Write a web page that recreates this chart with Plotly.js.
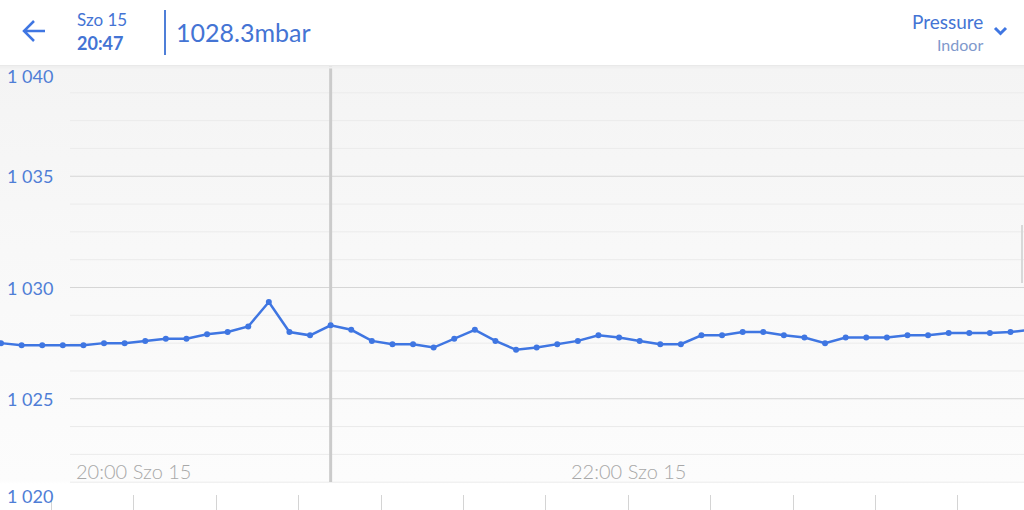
<!DOCTYPE html>
<html>
<head>
<meta charset="utf-8">
<script src="https://cdn.plot.ly/plotly-3.0.1.min.js"></script>
<style>
  html, body { margin: 0; padding: 0; width: 1024px; height: 510px; overflow: hidden; }
  body { background: linear-gradient(to bottom, #ffffff 0px, #ffffff 65px, #f4f4f4 66px, #f8f8f8 250px, #fcfcfc 480px, #ffffff 484px, #ffffff 510px); }
  #chart { width: 1024px; height: 510px; }
</style>
</head>
<body>
<div id="chart"></div>
<script>
// ---- data ----
const day = '2023-07-15';
const times = ['19:27:45','19:32:45','19:37:45','19:42:45','19:47:45','19:52:45','19:57:45',
  '20:02:45','20:07:45','20:12:45','20:17:45','20:22:45','20:27:45','20:32:45','20:37:45','20:42:45',
  '20:47:45','20:52:45','20:57:45','21:02:45','21:07:45','21:12:45','21:17:45','21:22:45','21:27:45',
  '21:32:45','21:37:45','21:42:45','21:47:45','21:52:45','21:57:45','22:02:45','22:07:45','22:12:45',
  '22:17:45','22:22:45','22:27:45','22:32:45','22:37:45','22:42:45','22:47:45','22:52:45','22:57:45',
  '23:02:45','23:07:45','23:12:45','23:17:45','23:22:45','23:27:45','23:32:45','23:37:45'];
const pressure = [1027.5, 1027.4, 1027.4, 1027.4, 1027.4, 1027.5, 1027.5, 1027.6, 1027.7, 1027.7,
  1027.9, 1028.0, 1028.25, 1029.35, 1028.0, 1027.85, 1028.3, 1028.1, 1027.6, 1027.45,
  1027.45, 1027.3, 1027.7, 1028.1, 1027.6, 1027.2, 1027.3, 1027.45, 1027.6, 1027.85,
  1027.75, 1027.6, 1027.45, 1027.45, 1027.85, 1027.85, 1028.0, 1028.0, 1027.85, 1027.75,
  1027.5, 1027.75, 1027.75, 1027.75, 1027.85, 1027.85, 1027.95, 1027.95, 1027.95, 1028.0, 1028.1];
const yTickVals = [1040, 1035, 1030, 1025, 1020];
const yTickText = ['1 040', '1 035', '1 030', '1 025', '1 020'];
const xLabelTimes = ['20:00', '22:00'];
const xLabelText = ['20:00 Szo 15', '22:00 Szo 15'];
const cursorTime = '20:47:45';
const header = { day: 'Szo 15', time: '20:47', value: '1028.3mbar', metric: 'Pressure', module: 'Indoor' };

// ---- helpers ----
const W = 1024, H = 510, T = 65;
const P = x => x / W;                 // pixel x -> paper
const Q = y => (H - y) / (H - T);     // pixel y -> paper
const blue = '#3f76e2';
const textBlue = '#4474d4';
const font = 'Lato, "Open Sans", sans-serif';

const x = times.map(t => day + ' ' + t);

// grid lines (every 1.25 mbar)
const shapes = [];
for (let v = 1021.25; v < 1040; v += 1.25) {
  const major = Math.abs(v / 5 - Math.round(v / 5)) < 1e-6;
  shapes.push({ type: 'line', xref: 'paper', yref: 'y', x0: P(70), x1: 1, y0: v, y1: v,
    line: { color: major ? '#d6d6d6' : '#ebebeb', width: major ? 1.2 : 1 }, layer: 'below' });
}
// cursor
shapes.push({ type: 'line', xref: 'x', yref: 'paper', x0: day + ' ' + cursorTime, x1: day + ' ' + cursorTime,
  y0: Q(482), y1: 1, line: { color: '#cbcbcb', width: 3 }, layer: 'below' });
// right scroll indicator
shapes.push({ type: 'line', xref: 'paper', yref: 'paper', x0: P(1022), x1: P(1022), y0: Q(283), y1: Q(225),
  line: { color: '#d8d8d8', width: 2 }, layer: 'below' });
// header background + shadow
shapes.push({ type: 'rect', xref: 'paper', yref: 'paper', x0: 0, x1: 1, y0: Q(65), y1: Q(0),
  fillcolor: '#ffffff', line: { width: 0 } });
shapes.push({ type: 'rect', xref: 'paper', yref: 'paper', x0: 0, x1: 1, y0: Q(66.5), y1: Q(65),
  fillcolor: '#e9e9e9', line: { width: 0 } });
shapes.push({ type: 'rect', xref: 'paper', yref: 'paper', x0: 0, x1: 1, y0: Q(68.5), y1: Q(66.5),
  fillcolor: '#f0f0f0', line: { width: 0 } });
// back arrow
shapes.push({ type: 'path', xref: 'paper', yref: 'paper',
  path: `M ${P(24)} ${Q(31)} L ${P(45)} ${Q(31)} M ${P(34)} ${Q(21)} L ${P(24)} ${Q(31)} L ${P(34)} ${Q(41)}`,
  line: { color: blue, width: 2.5 } });
// divider
shapes.push({ type: 'line', xref: 'paper', yref: 'paper', x0: P(165), x1: P(165), y0: Q(55), y1: Q(10),
  line: { color: '#4f7fd8', width: 2 } });
// chevron
shapes.push({ type: 'path', xref: 'paper', yref: 'paper',
  path: `M ${P(995)} ${Q(28)} L ${P(1000.5)} ${Q(33.5)} L ${P(1006)} ${Q(28)}`,
  line: { color: blue, width: 3 } });

const annotations = [];
yTickVals.forEach((v, i) => {
  let yanchor = 'middle', yshift = 0;
  if (i === 0) { yanchor = 'top'; yshift = 2; }
  if (i === yTickVals.length - 1) { yanchor = 'bottom'; yshift = 1; }
  annotations.push({ xref: 'paper', yref: 'y', x: 0, y: v, xanchor: 'left', yanchor, xshift: 5, yshift,
    text: yTickText[i], showarrow: false, font: { family: font, size: 18, color: '#4f7ed6' } });
});
xLabelTimes.forEach((t, i) => {
  annotations.push({ xref: 'x', yref: 'paper', x: day + ' ' + t, y: Q(471), xanchor: 'center', yanchor: 'middle',
    text: xLabelText[i], showarrow: false, font: { family: font, size: 20, weight: 300, color: '#a8a8a8' } });
});
// header texts
annotations.push({ xref: 'paper', yref: 'paper', x: P(75), y: Q(19), xanchor: 'left', yanchor: 'middle',
  text: header.day, showarrow: false, font: { family: font, size: 17, color: textBlue } });
annotations.push({ xref: 'paper', yref: 'paper', x: P(75), y: Q(43), xanchor: 'left', yanchor: 'middle',
  text: '<b>' + header.time + '</b>', showarrow: false, font: { family: font, size: 18, color: textBlue } });
annotations.push({ xref: 'paper', yref: 'paper', x: P(174), y: Q(32), xanchor: 'left', yanchor: 'middle',
  text: header.value, showarrow: false, font: { family: font, size: 25, color: textBlue } });
annotations.push({ xref: 'paper', yref: 'paper', x: P(985), y: Q(22), xanchor: 'right', yanchor: 'middle',
  text: header.metric, showarrow: false, font: { family: font, size: 19, color: textBlue } });
annotations.push({ xref: 'paper', yref: 'paper', x: P(985), y: Q(44), xanchor: 'right', yanchor: 'middle',
  text: header.module, showarrow: false, font: { family: font, size: 16, color: '#7f99cc' } });

const trace = {
  type: 'scatter', mode: 'lines+markers', x: x, y: pressure,
  line: { color: blue, width: 2.5 },
  marker: { color: blue, size: 6 },
  hoverinfo: 'skip'
};

const layout = {
  width: W, height: H,
  margin: { l: 0, r: 0, t: T, b: 0, pad: 0 },
  paper_bgcolor: 'rgba(0,0,0,0)', plot_bgcolor: 'rgba(0,0,0,0)',
  showlegend: false,
  xaxis: {
    type: 'date', range: [day + ' 19:27:30', day + ' 23:36:02'],
    showgrid: false, zeroline: false, showticklabels: false,
    ticks: 'inside', ticklen: 15, tickcolor: '#d4d4d4', tickwidth: 1,
    tick0: day + ' 19:40:00', dtick: 20 * 60 * 1000,
    showline: true, linecolor: '#e4e4e4', linewidth: 1
  },
  yaxis: {
    range: [1020, 1040], showgrid: false, zeroline: false, showticklabels: false, ticks: ''
  },
  shapes: shapes,
  annotations: annotations
};

Plotly.newPlot('chart', [trace], layout, { displayModeBar: false, staticPlot: true });
</script>
</body>
</html>
